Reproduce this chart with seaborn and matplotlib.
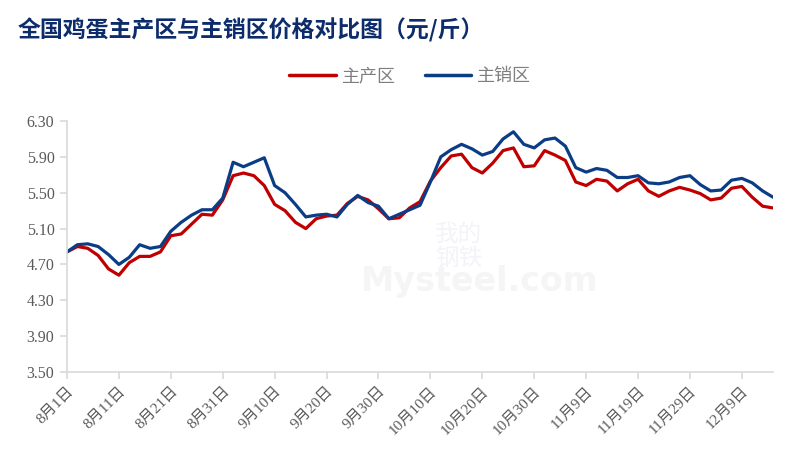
import pandas as pd
import seaborn as sns
import matplotlib.pyplot as plt

# days since 8月1日, every second day
day_offset = list(range(0, 137, 2))

# 主产区 (元/斤)
producing = [4.84, 4.90, 4.88, 4.80, 4.65, 4.58, 4.72, 4.79, 4.79, 4.84,
             5.02, 5.04, 5.15, 5.26, 5.25, 5.42, 5.69, 5.72, 5.69, 5.58,
             5.37, 5.30, 5.17, 5.10, 5.21, 5.24, 5.25, 5.38, 5.46, 5.42,
             5.32, 5.21, 5.22, 5.33, 5.40, 5.63, 5.78, 5.91, 5.93, 5.78,
             5.72, 5.83, 5.97, 6.00, 5.79, 5.80, 5.97, 5.92, 5.86, 5.62,
             5.58, 5.65, 5.63, 5.52, 5.60, 5.65, 5.52, 5.46, 5.52, 5.56,
             5.53, 5.49, 5.42, 5.44, 5.55, 5.57, 5.45, 5.35, 5.33]

# 主销区 (元/斤)
selling = [4.84, 4.92, 4.93, 4.90, 4.81, 4.70, 4.78, 4.92, 4.88, 4.90,
           5.07, 5.17, 5.25, 5.31, 5.31, 5.44, 5.84, 5.79, 5.84, 5.89,
           5.58, 5.50, 5.37, 5.23, 5.25, 5.26, 5.23, 5.37, 5.47, 5.39,
           5.35, 5.21, 5.26, 5.31, 5.36, 5.62, 5.90, 5.98, 6.04, 5.99,
           5.92, 5.96, 6.10, 6.18, 6.04, 6.00, 6.09, 6.11, 6.02, 5.78,
           5.73, 5.77, 5.75, 5.67, 5.67, 5.69, 5.61, 5.60, 5.62, 5.67,
           5.69, 5.59, 5.52, 5.53, 5.64, 5.66, 5.61, 5.52, 5.45]

series_names = ['主产区', '主销区']
colors = ['#C00000', '#0B3D86']
y_ticks = [3.50, 3.90, 4.30, 4.70, 5.10, 5.50, 5.90, 6.30]
x_tick_labels = ['8月1日', '8月11日', '8月21日', '8月31日', '9月10日', '9月20日',
                 '9月30日', '10月10日', '10月20日', '10月30日', '11月9日',
                 '11月19日', '11月29日', '12月9日']

start = pd.Timestamp('2023-08-01')
dates = [start + pd.Timedelta(days=d) for d in day_offset]
df = pd.DataFrame({
    'date': dates * 2,
    'price': producing + selling,
    'region': [series_names[0]] * len(dates) + [series_names[1]] * len(dates),
})

sns.set_style('white')
plt.rcParams['font.family'] = ['Liberation Serif', 'Noto Sans CJK SC', 'DejaVu Sans']

fig = plt.figure(figsize=(8.12, 4.61), dpi=100)
ax = fig.add_axes([0.0825, 0.193, 0.8695, 0.5445])

sns.lineplot(data=df, x='date', y='price', hue='region', palette=colors,
             linewidth=2.3, ax=ax, legend=False)

ax.set_xlim(start, start + pd.Timedelta(days=136))
ax.set_ylim(3.50, 6.30)
ax.set_yticks(y_ticks)
ax.set_yticklabels([f'{v:.2f}' for v in y_ticks], fontsize=11.5, color='#595959')
x_ticks = [start + pd.Timedelta(days=10 * i) for i in range(len(x_tick_labels))]
ax.set_xticks(x_ticks)
ax.set_xticklabels(x_tick_labels, rotation=45, ha='right', va='top',
                   rotation_mode='anchor', fontsize=11, color='#595959')
ax.set_xlabel('')
ax.set_ylabel('')

for side in ['top', 'right']:
    ax.spines[side].set_visible(False)
for side in ['left', 'bottom']:
    ax.spines[side].set_color('#D9D9D9')
    ax.spines[side].set_linewidth(1.2)
ax.tick_params(axis='both', which='major', length=5, width=1.2, color='#D9D9D9',
               direction='out', bottom=True, left=True, pad=4)

# faint watermark
ax.text(0.585, 0.36, 'Mysteel.com', transform=ax.transAxes, ha='center', va='center',
        fontsize=24, fontweight='bold', color='#F5F5F5', family='DejaVu Sans', zorder=0)
ax.text(0.555, 0.5, '我的\n钢铁', transform=ax.transAxes, ha='center', va='center',
        fontsize=17, color='#F3F3F8', family=['Noto Sans CJK SC'], zorder=0,
        linespacing=1.0)

fig.text(0.022, 0.935, '全国鸡蛋主产区与主销区价格对比图（元/斤）', fontsize=16.5,
         fontweight='bold', color='#0D2C6C', family=['Noto Sans CJK SC'], va='center')

# legend
handles = [plt.Line2D([0], [0], color=c, linewidth=2.5) for c in colors]
fig.legend(handles, series_names, loc='center', bbox_to_anchor=(0.505, 0.835), ncol=2,
           frameon=False, labelcolor='#7F7F7F', handlelength=2.6,
           columnspacing=1.6, handletextpad=0.3,
           prop={'family': ['Noto Sans CJK SC'], 'size': 13})

fig.savefig('out.png', dpi=100)
